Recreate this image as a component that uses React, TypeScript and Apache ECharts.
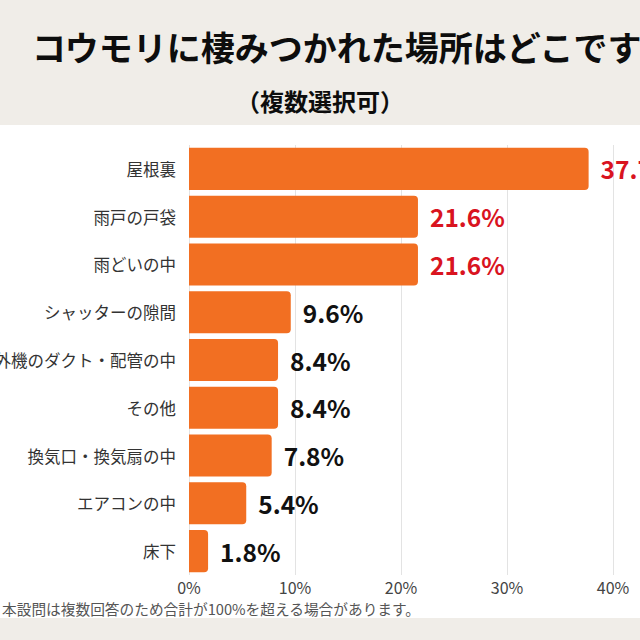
import React, { useEffect, useRef } from "react";
import * as echarts from "echarts";

const categories = [
  "屋根裏",
  "雨戸の戸袋",
  "雨どいの中",
  "シャッターの隙間",
  "室外機のダクト・配管の中",
  "その他",
  "換気口・換気扇の中",
  "エアコンの中",
  "床下",
];
const values = [37.7, 21.6, 21.6, 9.6, 8.4, 8.4, 7.8, 5.4, 1.8];
const highlightCount = 3;
const xTicks = [0, 10, 20, 30, 40];

const titleText = "コウモリに棲みつかれた場所はどこですか？";
const subtitleText = "（複数選択可）";
const noteText = "本設問は複数回答のため合計が100%を超える場合があります。";

const FONT = '"Noto Sans CJK JP", "Noto Sans", sans-serif';

export default function App() {
  const ref = useRef<HTMLDivElement>(null);
  useEffect(() => {
    if (!ref.current) return;
    const chart = echarts.init(ref.current, null, { renderer: "svg" });
    chart.setOption({
      animation: false,
      backgroundColor: "#f0ede8",
      textStyle: { fontFamily: FONT },
      graphic: [
        {
          type: "rect",
          z: -10,
          silent: true,
          shape: { x: 0, y: 125, width: 640, height: 493 },
          style: { fill: "#ffffff" },
        },
        {
          type: "text",
          x: 32,
          y: 46,
          style: {
            text: titleText,
            font: `bold 34px ${FONT}`,
            fill: "#0d0d0d",
            textVerticalAlign: "middle",
          },
        },
        {
          type: "text",
          x: 320,
          y: 100,
          style: {
            text: subtitleText,
            font: `bold 24px ${FONT}`,
            fill: "#0d0d0d",
            textAlign: "center",
            textVerticalAlign: "middle",
          },
        },
        {
          type: "text",
          x: 2,
          y: 608,
          style: {
            text: noteText,
            font: `14.7px ${FONT}`,
            fill: "#555555",
            textVerticalAlign: "middle",
          },
        },
      ],
      grid: {
        left: 189,
        right: 27,
        top: 145,
        bottom: 65,
        containLabel: false,
        outerBoundsMode: "none",
      },
      xAxis: {
        type: "value",
        min: 0,
        max: 40,
        interval: 10,
        axisLine: { show: false },
        axisTick: { show: false },
        splitLine: { show: true, lineStyle: { color: "#e3e3e3", width: 1 } },
        axisLabel: {
          formatter: (v: number) => (xTicks.includes(v) ? `${v}%` : ""),
          fontSize: 16,
          color: "#444444",
          margin: 4,
          fontFamily: FONT,
        },
      },
      yAxis: {
        type: "category",
        data: categories,
        inverse: true,
        axisLine: { show: false },
        axisTick: { show: false },
        axisLabel: {
          fontSize: 16.5,
          color: "#333333",
          margin: 13,
          fontFamily: FONT,
        },
      },
      series: [
        {
          type: "bar",
          data: values.map((v, i) => ({
            value: v,
            label: {
              color: i < highlightCount ? "#d9141f" : "#111111",
            },
          })),
          barCategoryGap: "12%",
          itemStyle: { color: "#f26f22", borderRadius: [0, 4, 4, 0] },
          label: {
            show: true,
            position: "right",
            distance: 12,
            formatter: (p: any) => `${p.value.toFixed(1)}%`,
            fontSize: 24.5,
            fontWeight: "bold",
            fontFamily: FONT,
          },
        },
      ],
    });
    return () => chart.dispose();
  }, []);
  return (
    <div
      ref={ref}
      style={{ position: "fixed", left: 0, top: 0, width: 640, height: 640 }}
    />
  );
}
